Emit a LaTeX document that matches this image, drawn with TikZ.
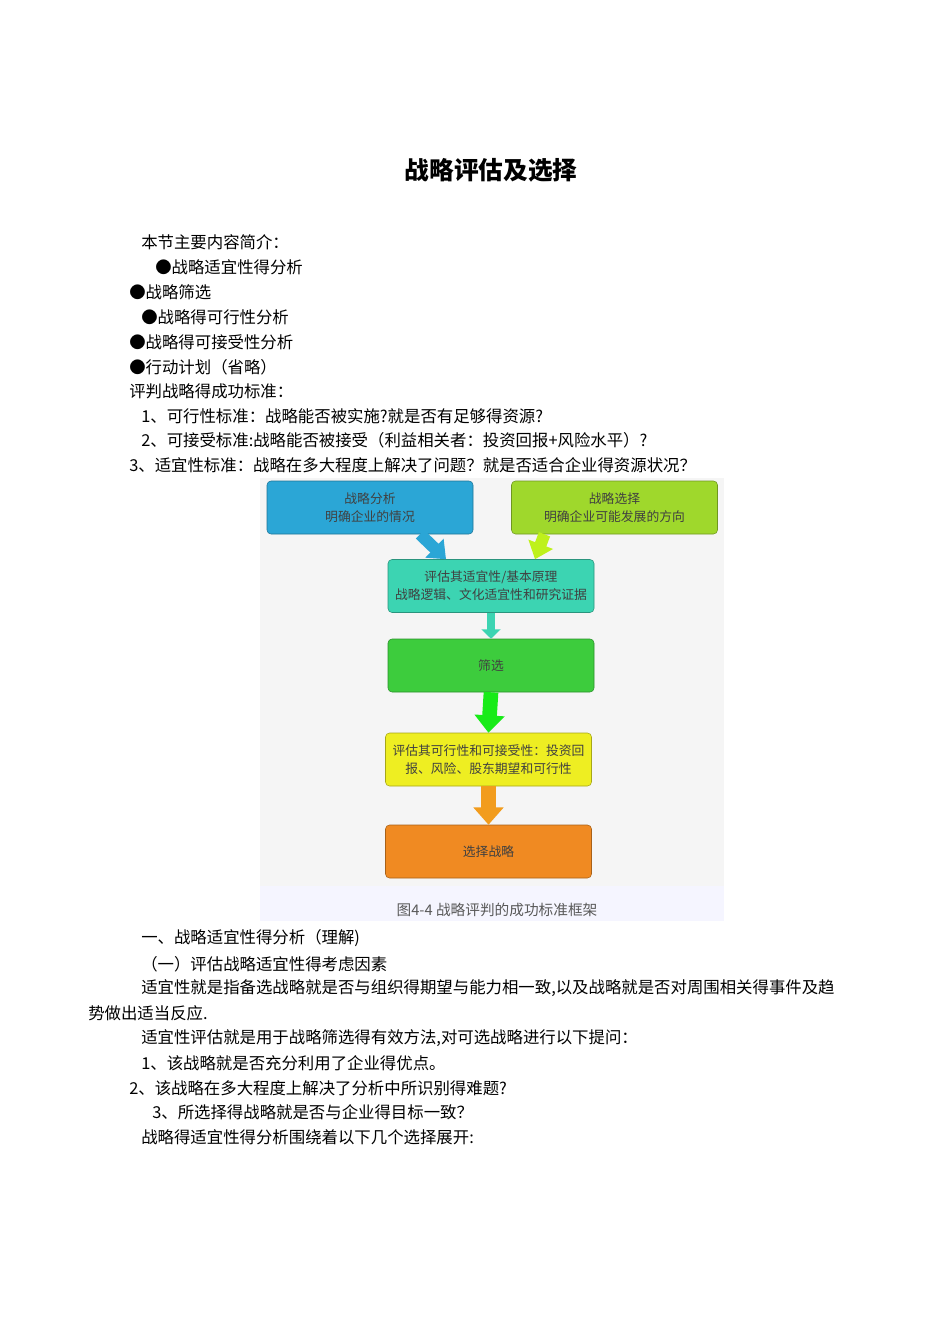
\documentclass[tikz,border=0pt]{standalone}
\usepackage{fontspec}
\setmainfont{Noto Sans CJK SC}
\usetikzlibrary{arrows.meta}
\definecolor{cblue}{HTML}{2BA6D6}
\definecolor{clime}{HTML}{9FD82C}
\definecolor{cteal}{HTML}{3CD4B2}
\definecolor{cgreen}{HTML}{3DCC3D}
\definecolor{cyel}{HTML}{EEEE22}
\definecolor{corange}{HTML}{F08A22}
\tikzset{
 txt/.style={anchor=west,inner sep=0pt,font=\fontsize{12.3}{14}\selectfont},
 box/.style={draw=#1!70!black,fill=#1,rounded corners=3pt,minimum width=206*0.75pt,minimum height=53*0.75pt,align=center,font=\fontsize{9.6}{13.5}\selectfont,text=black!75,inner sep=1pt},
 flow/.style={line width=9pt,draw=#1,-{Triangle[width=19pt,length=12pt]}},
}
\begin{document}
\begin{tikzpicture}[x=0.75pt,y=-0.75pt]
\useasboundingbox (0,0) rectangle (950,1344);
\node[font=\fontsize{18.5}{20}\selectfont\bfseries] (title) at (491,170) {战略评估及选择};
\node[txt] (l1) at (141,242) {本节主要内容简介：};
\node[txt] (l2) at (155,267) {●战略适宜性得分析};
\node[txt] (l3) at (129,292) {●战略筛选};
\node[txt] (l4) at (141,317) {●战略得可行性分析};
\node[txt] (l5) at (129,342) {●战略得可接受性分析};
\node[txt] (l6) at (129,367) {●行动计划（省略）};
\node[txt] (l7) at (129,391) {评判战略得成功标准：};
\node[txt] (l8) at (141,416) {1、可行性标准：战略能否被实施?就是否有足够得资源?};
\node[txt] (l9) at (141,440) {2、可接受标准:战略能否被接受（利益相关者：投资回报+风险水平）?};
\node[txt] (l10) at (129,465) {3、适宜性标准：战略在多大程度上解决了问题？就是否适合企业得资源状况？};
% diagram
\fill[black!4] (260,478) rectangle (724,921);
\fill[white!96!blue] (260,886) rectangle (724,921);
\node[box=cblue] (a) at (370,507.5) {战略分析\\明确企业的情况};
\node[box=clime] (b) at (614.5,507.5) {战略选择\\明确企业可能发展的方向};
\node[box=cteal] (c) at (491,586) {评估其适宜性/基本原理\\战略逻辑、文化适宜性和研究证据};
\node[box=cgreen] (d) at (491,665.5) {筛选};
\node[box=cyel] (e) at (488.5,759.5) {评估其可行性和可接受性：投资回\\报、风险、股东期望和可行性};
\node[box=corange] (f) at (488.5,851.5) {选择战略};
\draw[flow=cblue] ([xshift=50*0.75pt]a.south) -- ([xshift=-45*0.75pt]c.north);
\draw[flow=cyel!80!green] ([xshift=-70*0.75pt]b.south) -- ([xshift=44*0.75pt]c.north);
\draw[flow=cteal,line width=6pt,-{Triangle[width=14pt,length=7pt]}] (c.south) -- (d.north);
\draw[flow=green!60!cgreen,line width=11pt,-{Triangle[width=22pt,length=13pt]}] (d.south) -- (e.north);
\draw[flow=corange!85!yellow,line width=11pt,-{Triangle[width=22pt,length=13pt]}] (f.north |- e.south) -- (f.north);
\node[font=\fontsize{11}{13}\selectfont,text=black!65] (cap) at (497,910) {图4-4\ 战略评判的成功标准框架};
% lower text
\node[txt] (m1) at (141,938) {一、战略适宜性得分析（理解)};
\node[txt] (m2) at (141,964) {（一）评估战略适宜性得考虑因素};
\node[txt] (m3) at (141,988) {适宜性就是指备选战略就是否与组织得期望与能力相一致,以及战略就是否对周围相关得事件及趋};
\node[txt] (m4) at (88,1013) {势做出适当反应.};
\node[txt] (m5) at (141,1038) {适宜性评估就是用于战略筛选得有效方法,对可选战略进行以下提问：};
\node[txt] (m6) at (141,1063) {1、该战略就是否充分利用了企业得优点。};
\node[txt] (m7) at (129,1088) {2、该战略在多大程度上解决了分析中所识别得难题?};
\node[txt] (m8) at (152,1112) {3、所选择得战略就是否与企业得目标一致？};
\node[txt] (m9) at (141,1137) {战略得适宜性得分析围绕着以下几个选择展开:};
\end{tikzpicture}
\end{document}
